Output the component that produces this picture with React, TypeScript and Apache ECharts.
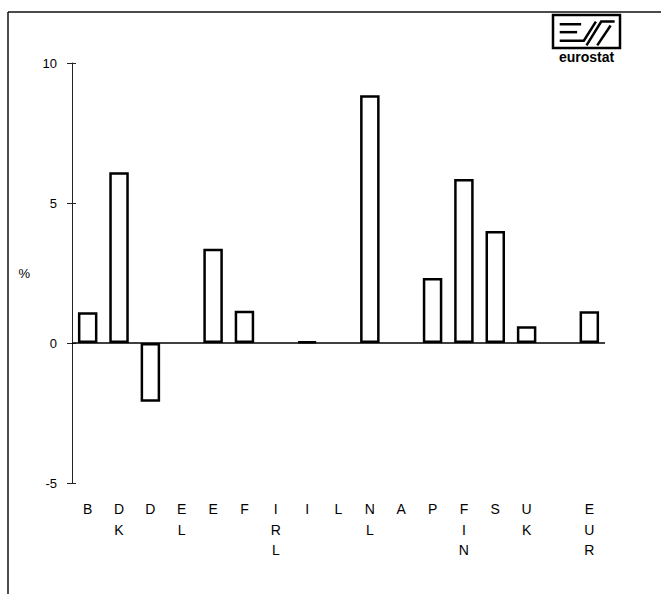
import React, { useEffect, useRef } from "react";
import * as echarts from "echarts";

const categories = ["B", "DK", "D", "EL", "E", "F", "IRL", "I", "L", "NL", "A", "P", "FIN", "S", "UK", "", "EUR"];
const values: (number | null)[] = [1.1, 6.1, -2.1, null, 3.37, 1.15, null, 0.05, null, 8.85, null, 2.32, 5.86, 4.0, 0.6, null, 1.13];
const yTicks = { min: -5, max: 10, interval: 5 };
const yUnit = "%";
const logoText = "eurostat";

const FONT = "'Liberation Sans', Arial, Helvetica, sans-serif";

export default function App() {
  const ref = useRef<HTMLDivElement>(null);
  useEffect(() => {
    if (!ref.current) return;
    const chart = echarts.init(ref.current, null, { renderer: "svg" });
    const lx = 553, ly = 15, lw = 67, lh = 33;
    const P = (fx: number, fy: number) => [lx + fx * lw, ly + fy * lh];
    const logoStroke = { stroke: "#000", lineWidth: 2.5, fill: "none" };
    chart.setOption({
      animation: false,
      backgroundColor: "#fff",
      textStyle: { fontFamily: FONT },
      grid: { left: 72, right: 56, top: 63, bottom: 111, containLabel: false },
      xAxis: {
        type: "category",
        data: categories,
        axisLine: { show: false, onZero: false },
        axisTick: { show: false },
        axisLabel: {
          interval: 0,
          margin: 16,
          color: "#000",
          fontSize: 14,
          fontFamily: FONT,
          lineHeight: 20.5,
          verticalAlign: "top",
          formatter: (v: string) => v.split("").join("\n"),
        },
        splitLine: { show: false },
      },
      yAxis: [
        {
          type: "value",
          min: yTicks.min,
          max: yTicks.max,
          interval: yTicks.interval,
          name: yUnit,
          nameLocation: "middle",
          nameRotate: 0,
          nameGap: 42,
          nameTextStyle: { color: "#000", fontSize: 13, fontFamily: FONT },
          axisLine: { show: true, lineStyle: { color: "#222", width: 1 } },
          axisTick: { show: true, inside: false, length: 5, lineStyle: { color: "#222", width: 1 } },
          axisLabel: { margin: 15, color: "#000", fontSize: 13, fontFamily: FONT },
          splitLine: { show: false },
        },
        {
          type: "value",
          min: yTicks.min,
          max: yTicks.max,
          interval: yTicks.interval,
          position: "left",
          axisLine: { show: false },
          axisTick: { show: true, inside: true, length: 4, lineStyle: { color: "#222", width: 1 } },
          axisLabel: { show: false },
          splitLine: { show: false },
        },
      ],
      series: [
        {
          type: "bar",
          data: values,
          barWidth: 19.5,
          itemStyle: { color: "#fff", borderColor: "#000", borderWidth: 2.5 },
          markLine: {
            silent: true,
            symbol: ["none", "none"],
            label: { show: false },
            lineStyle: { color: "#000", width: 1.5, type: "solid" },
            data: [{ yAxis: 0 }],
          },
        },
      ],
      graphic: [
        { type: "line", shape: { x1: 8, y1: 12, x2: 661, y2: 12 }, style: { stroke: "#111", lineWidth: 1.5 } },
        { type: "line", shape: { x1: 8, y1: 12, x2: 8, y2: 594 }, style: { stroke: "#111", lineWidth: 1.5 } },
        { type: "rect", shape: { x: lx, y: ly, width: lw, height: lh }, style: logoStroke },
        { type: "polyline", shape: { points: [P(0.1, 0.28), P(0.42, 0.28)] }, style: logoStroke },
        { type: "polyline", shape: { points: [P(0.1, 0.52), P(0.36, 0.52)] }, style: logoStroke },
        { type: "polyline", shape: { points: [P(0.1, 0.78), P(0.46, 0.78), P(0.64, 0.2)] }, style: logoStroke },
        { type: "polyline", shape: { points: [P(0.5, 0.92), P(0.72, 0.2), P(0.92, 0.2)] }, style: logoStroke },
        { type: "polyline", shape: { points: [P(0.66, 0.92), P(0.86, 0.32)] }, style: logoStroke },
        {
          type: "text",
          style: {
            x: lx + lw / 2,
            y: ly + lh + 9,
            text: logoText,
            align: "center",
            verticalAlign: "middle",
            fill: "#000",
            font: `bold 14px ${FONT}`,
          },
        },
      ],
    });
    return () => chart.dispose();
  }, []);
  return <div ref={ref} style={{ position: "fixed", left: 0, top: 0, width: 661, height: 594 }} />;
}
